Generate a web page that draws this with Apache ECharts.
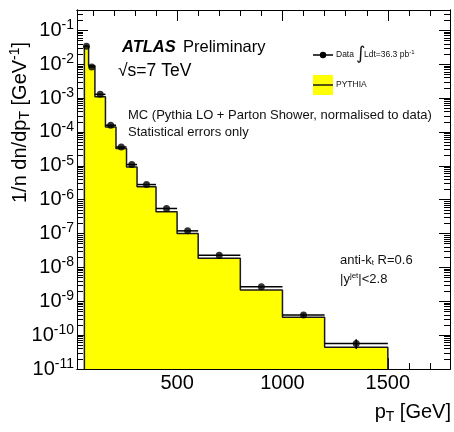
<!DOCTYPE html>
<html><head><meta charset="utf-8">
<script src="https://cdn.jsdelivr.net/npm/echarts@6/dist/echarts.min.js"></script>
<style>html,body{margin:0;padding:0;background:#fff}#c{width:454px;height:432px}</style>
</head><body><div id="c"></div>
<script>
// ---- data ----
const binEdges = [60, 80, 110, 160, 210, 260, 310, 400, 500, 600, 800, 1000, 1200, 1500];
const dataValues = [3.4e-2, 8.3e-3, 1.29e-3, 1.58e-4, 3.6e-5, 1.09e-5, 2.8e-6, 5.5e-7, 1.2e-7, 2.3e-8, 2.7e-9, 3.9e-10, 5.7e-11];
const dataErrors = [0, 0, 0, 0, 0, 0, 0, 0, 0, 0, 1.5e-10, 4e-11, 1.8e-11];
const mcValues = [3.4e-2, 9.0e-3, 1.1e-3, 1.4e-4, 3.25e-5, 9.3e-6, 2.4e-6, 4.4e-7, 1.0e-7, 1.85e-8, 2.15e-9, 3.35e-10, 4.4e-11];
const xMajorTicks = [500, 1000, 1500];
const xMinorTicks = [100, 200, 300, 400, 600, 700, 800, 900, 1100, 1200, 1300, 1400, 1600, 1700];
const yDecadeTicks = [1e-11, 1e-10, 1e-9, 1e-8, 1e-7, 1e-6, 1e-5, 1e-4, 1e-3, 1e-2, 1e-1];
const yMinorMultipliers = [2, 3, 4, 5, 6, 7, 8, 9];

const X_MIN = 25, X_MAX = 1795, Y_MIN = 1e-11, Y_MAX = 0.4;
const FONT = '"Liberation Sans", Arial, Helvetica, sans-serif';

const yMinorTicks = [];
yDecadeTicks.forEach(d => yMinorMultipliers.forEach(k => { const v = k * d; if (v <= Y_MAX) yMinorTicks.push(v); }));

// histogram outline built from bins
const mcOutline = [[binEdges[0], Y_MIN]];
mcValues.forEach((v, i) => { mcOutline.push([binEdges[i], v]); mcOutline.push([binEdges[i + 1], v]); });
mcOutline.push([binEdges[binEdges.length - 1], Y_MIN]);

const dataPoints = dataValues.map((v, i) => [(binEdges[i] + binEdges[i + 1]) / 2, v]);
const errRows = dataValues.map((v, i) => [binEdges[i], binEdges[i + 1], v, dataErrors[i]]);

function xAx(pos, major, showLabel) {
  return {
    type: 'value', position: pos, min: X_MIN, max: X_MAX,
    axisLine: { show: true, onZero: false, lineStyle: { color: '#000', width: 1 } },
    axisTick: { show: true, inside: true, length: major ? 11 : 6, customValues: major ? xMajorTicks : xMinorTicks, lineStyle: { color: '#000', width: 1 } },
    axisLabel: { show: showLabel, customValues: xMajorTicks, formatter: v => String(v), color: '#000', fontFamily: FONT, fontSize: 20, margin: 4 },
    splitLine: { show: false }
  };
}
function yAx(pos, major, showLabel) {
  return {
    type: 'log', logBase: 10, position: pos, min: Y_MIN, max: Y_MAX,
    axisLine: { show: true, onZero: false, lineStyle: { color: '#000', width: 1 } },
    axisTick: { show: true, inside: true, length: major ? 11 : 6, customValues: major ? yDecadeTicks : yMinorTicks, lineStyle: { color: '#000', width: 1 } },
    axisLabel: {
      show: showLabel, customValues: yDecadeTicks, margin: 3,
      formatter: v => '{b|10}{s|' + Math.round(Math.log10(v)) + '}',
      rich: {
        b: { fontFamily: FONT, fontSize: 20, color: '#000' },
        s: { fontFamily: FONT, fontSize: 14, color: '#000', padding: [0, 0, 10, 0] }
      }
    },
    splitLine: { show: false }
  };
}

const chart = echarts.init(document.getElementById('c'));
chart.setOption({
  animation: false,
  backgroundColor: '#fff',
  grid: { left: 77, right: 4, top: 10, bottom: 63, containLabel: false },
  xAxis: [xAx('bottom', true, true), xAx('bottom', false, false), xAx('top', true, false), xAx('top', false, false)],
  yAxis: [yAx('left', true, true), yAx('left', false, false), yAx('right', true, false), yAx('right', false, false)],
  series: [
    {
      type: 'line', data: mcOutline, symbol: 'none', z: 2,
      lineStyle: { color: '#1a1a1a', width: 1.5 },
      areaStyle: { color: '#ffff00', opacity: 1, origin: 'start' }
    },
    {
      type: 'custom', z: 3,
      data: errRows,
      encode: { x: [0, 1], y: [2] },
      renderItem: (params, api) => {
        const lo = api.value(0), hi = api.value(1), v = api.value(2), e = api.value(3);
        const p1 = api.coord([lo, v]), p2 = api.coord([hi, v]);
        const children = [{ type: 'line', shape: { x1: p1[0], y1: p1[1], x2: p2[0], y2: p2[1] }, style: { stroke: '#000', lineWidth: 1.5 } }];
        if (e > 0) {
          const c = (lo + hi) / 2;
          const a = api.coord([c, v + e]), b = api.coord([c, v - e]);
          children.push({ type: 'line', shape: { x1: a[0], y1: a[1], x2: b[0], y2: b[1] }, style: { stroke: '#000', lineWidth: 1.5 } });
        }
        return { type: 'group', children };
      }
    },
    {
      type: 'scatter', data: dataPoints, symbol: 'circle', symbolSize: 7, z: 4,
      itemStyle: { color: '#000' }
    }
  ],
  graphic: [
    // y axis title
    { type: 'text', x: 8, y: 203, rotation: Math.PI / 2, style: {
      text: '{n|1/n dn/dp}{sub|T}{n| [GeV}{sup|-1}{n|]}',
      rich: {
        n: { fontFamily: FONT, fontSize: 20, fill: '#000' },
        sub: { fontFamily: FONT, fontSize: 14, fill: '#000', padding: [10, 0, 0, 0] },
        sup: { fontFamily: FONT, fontSize: 14, fill: '#000', padding: [0, 0, 10, 0] }
      }, verticalAlign: 'top'
    } },
    // x axis title
    { type: 'text', right: 3, top: 402, style: {
      text: '{n|p}{sub|T}{n| [GeV]}',
      rich: {
        n: { fontFamily: FONT, fontSize: 20, fill: '#000' },
        sub: { fontFamily: FONT, fontSize: 14, fill: '#000', padding: [10, 0, 0, 0] }
      }
    } },
    { type: 'text', x: 122, y: 47, style: { text: 'ATLAS', fontFamily: FONT, fontSize: 16.5, fontWeight: 'bold', fontStyle: 'italic', fill: '#000', verticalAlign: 'middle' } },
    { type: 'text', x: 183, y: 47, style: { text: 'Preliminary', fontFamily: FONT, fontSize: 16.5, fill: '#000', verticalAlign: 'middle' } },
    { type: 'text', x: 118, y: 71, style: { text: '√s=7 TeV', fontFamily: FONT, fontSize: 17.5, fill: '#000', verticalAlign: 'middle' } },
    { type: 'text', x: 128, y: 115, style: { text: 'MC (Pythia LO + Parton Shower, normalised to data)', fontFamily: FONT, fontSize: 13, fill: '#111', verticalAlign: 'middle' } },
    { type: 'text', x: 128, y: 132, style: { text: 'Statistical errors only', fontFamily: FONT, fontSize: 13, fill: '#111', verticalAlign: 'middle' } },
    { type: 'text', x: 340, y: 260, style: {
      text: '{n|anti-k}{sub|t}{n| R=0.6}',
      rich: { n: { fontFamily: FONT, fontSize: 13, fill: '#111' }, sub: { fontFamily: FONT, fontSize: 8, fill: '#111', padding: [6, 0, 0, 0] } },
      verticalAlign: 'middle'
    } },
    { type: 'text', x: 340, y: 279, style: {
      text: '{n||y}{sup|jet}{n||<2.8}',
      rich: { n: { fontFamily: FONT, fontSize: 13, fill: '#111' }, sup: { fontFamily: FONT, fontSize: 8, fill: '#111', padding: [0, 0, 7, 0] } },
      verticalAlign: 'middle'
    } },
    // legend: data
    { type: 'line', shape: { x1: 313, y1: 55, x2: 333, y2: 55 }, style: { stroke: '#000', lineWidth: 1.5 } },
    { type: 'circle', shape: { cx: 323, cy: 55, r: 3.2 }, style: { fill: '#000' } },
    { type: 'text', x: 336, y: 55, style: { text: 'Data', fontFamily: FONT, fontSize: 8.5, fill: '#111', verticalAlign: 'middle' } },
    { type: 'text', x: 356, y: 54, style: { text: '∫', fontFamily: '"DejaVu Sans", sans-serif', fontSize: 18, fill: '#111', verticalAlign: 'middle' } },
    { type: 'text', x: 364, y: 55, style: {
      text: '{n|Ldt=36.3 pb}{sup|-1}',
      rich: { n: { fontFamily: FONT, fontSize: 8.5, fill: '#111' }, sup: { fontFamily: FONT, fontSize: 6, fill: '#111', padding: [0, 0, 5, 0] } },
      verticalAlign: 'middle'
    } },
    // legend: pythia
    { type: 'rect', shape: { x: 313, y: 75, width: 20, height: 20 }, style: { fill: '#ffff00' } },
    { type: 'line', shape: { x1: 313, y1: 85, x2: 333, y2: 85 }, style: { stroke: '#1a1a1a', lineWidth: 1.5 } },
    { type: 'text', x: 336, y: 85, style: { text: 'PYTHIA', fontFamily: FONT, fontSize: 8.5, fill: '#111', verticalAlign: 'middle' } }
  ]
});
</script>
</body></html>
